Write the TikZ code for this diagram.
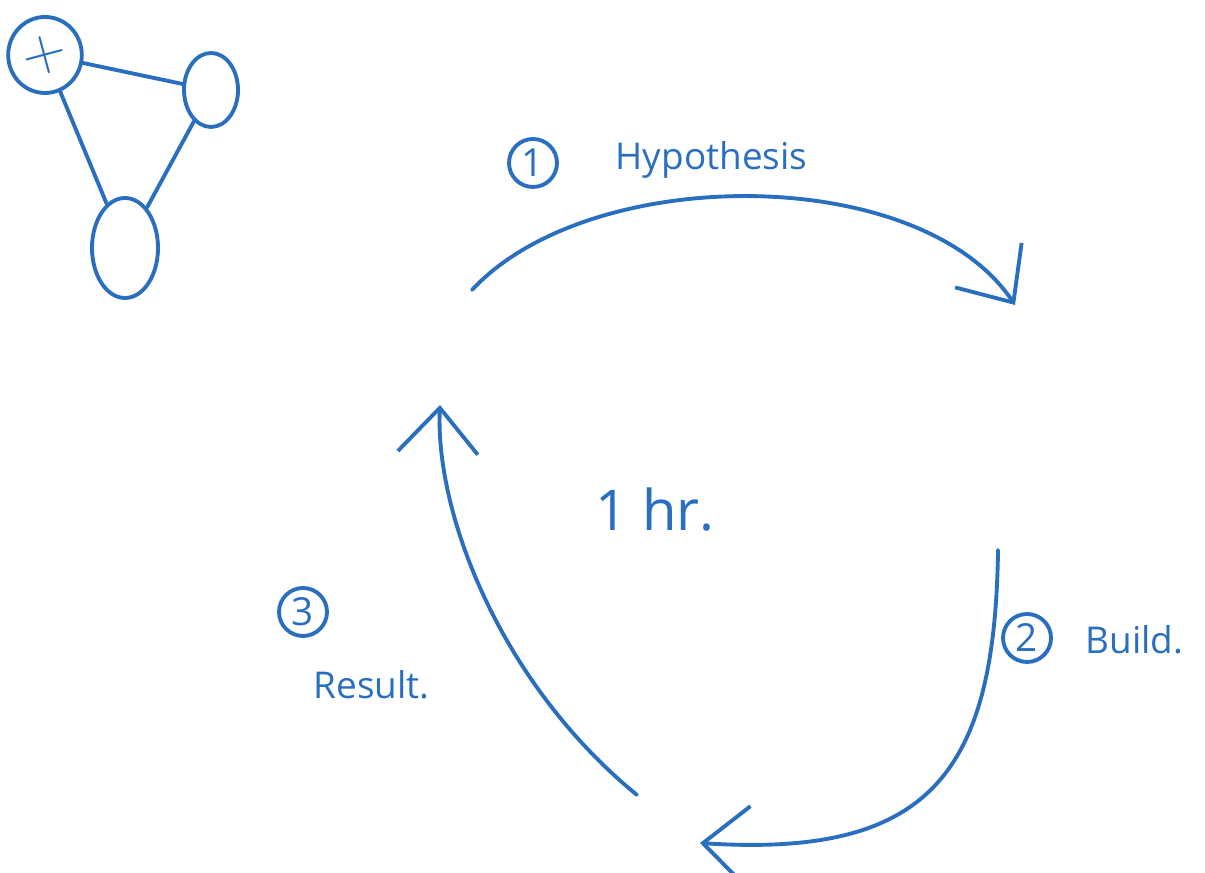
\documentclass[tikz,border=0pt]{standalone}
\usepackage{fontspec}
\setmainfont{Open Sans}
\usepackage{xcolor}
\usetikzlibrary{shapes.geometric,arrows.meta}

\definecolor{inkblue}{HTML}{2A6FBF}

\tikzset{
  ink/.style={draw=inkblue, line width=1.1pt, line cap=round},
  cyclearrow/.style={ink, -{Straight Barb[length=4.5mm,width=8mm,line width=1.1pt]}},
  gnode/.style={ellipse, ink, inner sep=0pt, text=inkblue},
  numcircle/.style={circle, ink, text=inkblue, minimum size=4.8mm, inner sep=0pt, font=\fontsize{11}{12}\selectfont},
  handtext/.style={text=inkblue, anchor=west, inner sep=0pt, font=\fontsize{10.5}{12}\selectfont}
}

\begin{document}
\begin{tikzpicture}
\useasboundingbox (0,0) rectangle (12.05,8.73);

% Small graph, top left
\node[gnode, minimum width=6.8mm, minimum height=7.6mm] (gplus) at (0.45,8.18) {\fontsize{16}{16}\selectfont\rotatebox{15}{$+$}};
\node[gnode, minimum width=5.4mm, minimum height=7.4mm] (gright) at (2.11,7.83) {};
\node[gnode, minimum width=6.6mm, minimum height=10mm] (gbottom) at (1.25,6.25) {};

\draw[ink] (gplus) -- (gright);
\draw[ink] (gplus) -- (gbottom);
\draw[ink] (gright) -- (gbottom);

% Cycle end points
\coordinate (hypstart) at (4.72,5.83);
\coordinate (hypend) at (10.15,5.68);
\coordinate (buildstart) at (9.98,3.23);
\coordinate (buildend) at (7.00,0.30);
\coordinate (resstart) at (6.37,0.78);
\coordinate (resend) at (4.40,4.68);

% Cycle arrows
\draw[cyclearrow] (hypstart) .. controls (5.9,7.1) and (9.2,7.1) .. (hypend);
\draw[cyclearrow] (buildstart) .. controls (9.95,1.0) and (9.3,0.15) .. (buildend);
\draw[cyclearrow] (resstart) .. controls (5.0,1.9) and (4.35,3.6) .. (resend);

% Labels
\node[numcircle] (num1) at (5.33,7.10) {1};
\node[handtext] (hyp) at (6.15,7.13) {Hypothesis};

\node[numcircle] (num2) at (10.27,2.35) {2};
\node[handtext] (build) at (10.85,2.33) {Build.};

\node[numcircle] (num3) at (3.03,2.61) {3};
\node[handtext] (result) at (3.13,1.88) {Result.};

\node[text=inkblue, font=\fontsize{16}{18}\selectfont] (hr) at (6.55,3.63) {1 hr.};
\end{tikzpicture}
\end{document}
